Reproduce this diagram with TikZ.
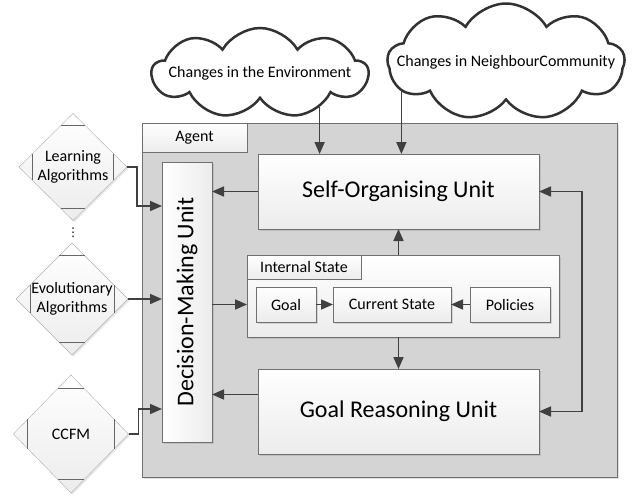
\documentclass[tikz,border=0pt]{standalone}
\usepackage{fontspec}
\setmainfont{Carlito}
\newfontfamily\symbolfont{DejaVu Sans}
\usetikzlibrary{%
	shapes.geometric,%
	shapes.symbols,%
	arrows.meta,%
	calc,%
	shadows
}
\definecolor{agentgray}{RGB}{212,212,212}
\definecolor{edgegray}{RGB}{112,112,112}
\definecolor{boxshade}{RGB}{236,236,236}
\definecolor{arrowgray}{RGB}{64,64,64}
\definecolor{cloudline}{RGB}{50,50,50}
\newcommand{\nowidth}[1]{\makebox[0pt]{#1}}
\newcommand{\smalltext}{\fontsize{16}{19}\selectfont}
\newcommand{\bigtext}{\fontsize{24}{28}\selectfont}

\begin{document}
\begin{tikzpicture}[x=1pt,y=-1pt,
	unit/.style={draw=edgegray,top color=white,bottom color=boxshade,inner sep=0pt,outer sep=0pt,
		drop shadow={shadow xshift=1.5pt,shadow yshift=-1.5pt,opacity=0.25}},
	tab/.style={draw=edgegray,top color=white,bottom color=boxshade,inner sep=0pt,outer sep=0pt,font=\smalltext},
	dia/.style={diamond,draw=gray!60,top color=white,bottom color=gray!15,inner sep=0pt,outer sep=0pt,
		font=\smalltext,drop shadow={shadow xshift=1.5pt,shadow yshift=-1.5pt,opacity=0.2}},
	thought/.style={cloud,cloud puffs=9,cloud puff arc=120,draw=cloudline,line width=2.5pt,fill=white,
		inner sep=0pt,outer sep=0pt,font=\smalltext},
	arr/.style={draw=arrowgray,line width=1.7pt,-{Triangle[length=12pt,width=10pt]}},
	innerline/.style={draw=gray!80!black,line width=0.8pt}]
	\useasboundingbox (0,0) rectangle (638,496);

	% agent frame with its tab
	\node[draw=edgegray,fill=agentgray,minimum width=475pt,minimum height=354pt,inner sep=0pt,outer sep=0pt,
		drop shadow={shadow xshift=1.5pt,shadow yshift=-1.5pt,opacity=0.25}] (agent) at (379.5,300) {};
	\node[tab,minimum width=105pt,minimum height=29pt] (agenttab) at (194.5,137.5) {Agent};

	% units inside the agent
	\node[unit,left color=white,right color=boxshade,minimum width=50pt,minimum height=280pt] (decision) at (187,302)
		{\bigtext\rotatebox{90}{Decision-Making Unit}};
	\node[unit,minimum width=281pt,minimum height=75pt,font=\bigtext] (selforg) at (398.5,191.5) {Self-Organising Unit};
	\node[unit,minimum width=281pt,minimum height=85pt,font=\bigtext] (goalr) at (398.5,411.5) {Goal Reasoning Unit};

	% internal state
	\node[unit,minimum width=312pt,minimum height=82pt] (internal) at (403,296) {};
	\node[tab,minimum width=114pt,minimum height=24pt] (internaltab) at (304,267) {Internal State};
	\node[unit,minimum width=60pt,minimum height=35pt,font=\smalltext] (goal) at (286,304.5) {Goal};
	\node[unit,minimum width=118pt,minimum height=35pt,font=\smalltext] (current) at (392,304.5) {Current State};
	\node[unit,minimum width=80pt,minimum height=35pt,font=\smalltext] (policies) at (510,304.5) {Policies};

	% outside influences
	\node[thought,minimum width=216pt,minimum height=90pt] (env) at (260,73) {\nowidth{Changes in the Environment}};
	\node[thought,minimum width=237pt,minimum height=117pt] (nbr) at (506,62) {\nowidth{Changes in NeighbourCommunity}};

	% algorithms feeding the decisions
	\node[dia,minimum width=108pt,minimum height=107pt] (learn) at (73,167)
		{\nowidth{\begin{tabular}{@{}c@{}}Learning\\Algorithms\end{tabular}}};
	\node[font=\symbolfont\fontsize{12}{14}\selectfont,inner sep=0pt] (dots) at (73,233) {⋮};
	\node[dia,minimum width=112pt,minimum height=112pt] (evol) at (72,299)
		{\nowidth{\begin{tabular}{@{}c@{}}Evolutionary\\Algorithms\end{tabular}}};
	\node[dia,minimum width=115pt,minimum height=118pt] (ccfm) at (71,434) {CCFM};
	\foreach \d in {learn,evol,ccfm}
	{\draw[innerline] ($(\d.north)!0.23!(\d.west)$) -- ($(\d.north)!0.23!(\d.east)$);
		\draw[innerline] ($(\d.south)!0.23!(\d.west)$) -- ($(\d.south)!0.23!(\d.east)$);
		\draw[innerline] ($(\d.west)!0.25!(\d.north)$) -- ($(\d.west)!0.25!(\d.south)$);
		\draw[innerline] ($(\d.east)!0.25!(\d.north)$) -- ($(\d.east)!0.25!(\d.south)$);
	}

	% connectors
	\draw[arr] (env.-29) -- (env.-29 |- selforg.north);
	\draw[arr] (nbr.-165) -- (nbr.-165 |- selforg.north);
	\draw[arr] (selforg.west) -- (selforg.west -| decision.east);
	\draw[arr] (internal.north -| selforg.south) -- (selforg.south);
	\draw[arr] (internal.south -| goalr.north) -- (goalr.north);
	\draw[arr] (decision.east |- goal) -- (internal.west |- goal);
	\draw[arr] ([yshift=17pt]goalr.west) -- ([yshift=17pt]goalr.west -| decision.east);
	\draw[arr] (goal) -- (current);
	\draw[arr] (policies) -- (current);
	\draw[arr,{Triangle[length=12pt,width=10pt]}-{Triangle[length=12pt,width=10pt]}]
		(selforg.east) -- ++(43,0) |- (goalr.east);
	\draw[arr] (learn.east) -- ++(10,0) |- ([yshift=96pt]decision.west);
	\draw[arr] (evol.east) -- (evol.east -| decision.west);
	\draw[arr] (ccfm.east) -- ++(10,0) |- ([yshift=-107pt]decision.west);
\end{tikzpicture}
\end{document}
